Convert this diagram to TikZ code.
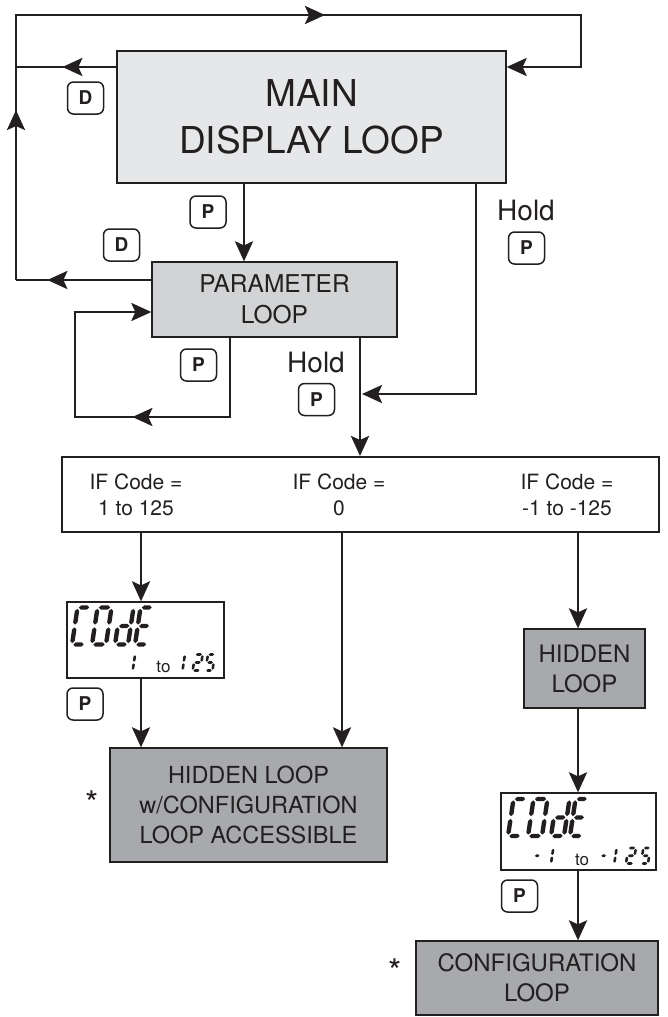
\documentclass[tikz,border=0pt]{standalone}
\usepackage{fontspec}
\setmainfont{TeX Gyre Heros}
\usetikzlibrary{arrows.meta,decorations.markings}
\definecolor{ink}{RGB}{35,31,32}
\definecolor{mainfill}{RGB}{230,231,232}
\definecolor{parfill}{RGB}{209,211,212}
\definecolor{hidfill}{RGB}{167,169,172}

\newcommand\hseg[4]{\fill[ink] ({#1},{#3}) -- ({#1+#4/2},{#3+#4/2}) -- ({#2-#4/2},{#3+#4/2}) -- ({#2},{#3}) -- ({#2-#4/2},{#3-#4/2}) -- ({#1+#4/2},{#3-#4/2}) -- cycle;}
\newcommand\vseg[4]{\fill[ink] ({#1},{#2}) -- ({#1+#4/2},{#2+#4/2}) -- ({#1+#4/2},{#3-#4/2}) -- ({#1},{#3}) -- ({#1-#4/2},{#3-#4/2}) -- ({#1-#4/2},{#2+#4/2}) -- cycle;}
\def\sgma{\hseg{\dg}{\dw-\dg}{\dh}{\dt}}
\def\sgmd{\hseg{\dg}{\dw-\dg}{0}{\dt}}
\def\sgmg{\hseg{\dg}{\dw-\dg}{\dh/2}{\dt}}
\def\sgmb{\vseg{\dw}{\dh/2+\dg}{\dh-\dg}{\dt}}
\def\sgmc{\vseg{\dw}{\dg}{\dh/2-\dg}{\dt}}
\def\sgme{\vseg{0}{\dg}{\dh/2-\dg}{\dt}}
\def\sgmf{\vseg{0}{\dh/2+\dg}{\dh-\dg}{\dt}}
\newcommand\segdigit[6]{%
  \begin{scope}[shift={(#1,#2)}, x=1pt, y=1pt, xslant=0.15]
    \def\dw{#3}\def\dh{#4}\def\dt{#5}\pgfmathsetmacro\dg{#5*0.3}
    \foreach \s in {#6}{\csname sgm\s\endcsname}
  \end{scope}}

\tikzset{
  >={Stealth[length=20pt,width=18pt,inset=4pt]},
  conn/.style={draw=ink, line width=2.8pt},
  midarrow/.style={postaction={decorate, decoration={markings, mark=at position #1 with {\arrow{>}}}}},
  box/.style={draw=ink, line width=1.3pt, text=ink, align=center, inner sep=0pt},
  keybox/.style={draw=ink, line width=1.5pt, rounded corners=6pt, minimum width=36pt, minimum height=32pt, inner sep=0pt, font=\fontsize{19}{19}\selectfont\bfseries, text=ink},
  txt/.style={text=ink, align=center, inner sep=0pt},
}

\begin{document}
\begin{tikzpicture}[x=1pt, y=-1pt]
\useasboundingbox (0,0) rectangle (668,1017);

% boxes
\node[box, fill=mainfill, minimum width=389pt, minimum height=132pt, font=\fontsize{37}{46.7}\selectfont] (main) at (311.5,117) {MAIN\\DISPLAY LOOP};
\node[box, fill=parfill, minimum width=245pt, minimum height=75pt, font=\fontsize{24.5}{31.3}\selectfont] (param) at (274.5,299.5) {PARAMETER\\LOOP};
\node[box, line width=2pt, fill=white, minimum width=597pt, minimum height=75pt] (ifbox) at (360.5,494.5) {};
\node[box, fill=white, minimum width=157pt, minimum height=76pt] (disp1) at (145.5,640) {};
\node[box, fill=hidfill, minimum width=277pt, minimum height=114pt, font=\fontsize{23.5}{30}\selectfont] (hidcfg) at (248.5,805) {HIDDEN LOOP\\w/CONFIGURATION\\LOOP ACCESSIBLE};
\node[box, fill=hidfill, minimum width=121pt, minimum height=79pt, font=\fontsize{24}{30}\selectfont] (hidden) at (584.5,668.5) {HIDDEN\\LOOP};
\node[box, fill=white, minimum width=155pt, minimum height=77pt] (disp2) at (578.5,831.5) {};
\node[box, fill=hidfill, minimum width=242pt, minimum height=74pt, font=\fontsize{24}{30}\selectfont] (conf) at (537,978) {CONFIGURATION\\LOOP};

% IF box texts
\node[txt, font=\fontsize{21}{26}\selectfont] (if1) at (136,495) {IF Code =\\1 to 125};
\node[txt, font=\fontsize{21}{26}\selectfont] (if2) at (339,495) {IF Code =\\0};
\node[txt, font=\fontsize{21}{26}\selectfont] (if3) at (567,495) {IF Code =\\-1 to -125};

% keys
\node[keybox] (kD1) at (85.5,98) {D};
\node[keybox] (kP1) at (208,212) {P};
\node[keybox] (kD2) at (121.5,245) {D};
\node[keybox] (kP2) at (526.5,248) {P};
\node[keybox] (kP3) at (198.5,365) {P};
\node[keybox] (kP4) at (316.5,399.5) {P};
\node[keybox] (kP5) at (85,704) {P};
\node[keybox] (kP6) at (519.5,896) {P};

% Hold labels and asterisks
\node[txt, anchor=base, font=\fontsize{28}{28}\selectfont] (hold1) at (526,220) {Hold};
\node[txt, anchor=base, font=\fontsize{28}{28}\selectfont] (hold2) at (316,372) {Hold};
\node[txt, anchor=base, font=\fontsize{34}{34}\selectfont] (ast1) at (92,815) {*};
\node[txt, anchor=base, font=\fontsize{34}{34}\selectfont] (ast2) at (395,983) {*};

% coordinates
\coordinate (tl) at (16,15);
\coordinate (tr) at (581,15);
\coordinate (rj) at (581,67);
\coordinate (lj) at (16,67);
\coordinate (lb) at (16,280);
\coordinate (px) at (244,0);
\coordinate (hx) at (476,0);
\coordinate (hj) at (476,394);
\coordinate (hv) at (362,394);
\coordinate (qx) at (360,0);
\coordinate (s1) at (230,417);
\coordinate (s2) at (75,417);
\coordinate (s3) at (75,312);
\coordinate (ax) at (141,0);
\coordinate (bx) at (342,0);
\coordinate (cx) at (578,0);

% connectors
\draw[conn, midarrow=54pt] (main.west |- lj) -- (lj);
\draw[conn, ->, midarrow=170pt, midarrow=574pt, line join=miter] (lb) -- (tl) -- (tr) -- (rj) -- (main.east |- rj);
\draw[conn, midarrow=104pt] (param.west |- lb) -- (lb);
\draw[conn, ->] (main.south -| px) -- (param.north -| px);
\draw[conn, ->, line join=miter] (main.south -| hx) -- (hj) -- (hv);
\draw[conn, ->] (param.south -| qx) -- (ifbox.north -| qx);
\draw[conn, ->, midarrow=177pt, line join=miter] (param.south -| s1) -- (s1) -- (s2) -- (s3) -- (param.west |- s3);
\draw[conn, ->] (ifbox.south -| ax) -- (disp1.north -| ax);
\draw[conn, ->] (disp1.south -| ax) -- (hidcfg.north -| ax);
\draw[conn, ->] (ifbox.south -| bx) -- (hidcfg.north -| bx);
\draw[conn, ->] (ifbox.south -| cx) -- (hidden.north -| cx);
\draw[conn, ->] (hidden.south -| cx) -- (disp2.north -| cx);
\draw[conn, ->] (disp2.south -| cx) -- (conf.north -| cx);

% display 1
\segdigit{72}{644.5}{13}{37}{4.4}{a,f,e,d}
\segdigit{92}{644.5}{14}{37}{4.4}{a,b,c,d,e,f}
\segdigit{115}{644.5}{13}{37}{4.4}{b,c,d,e,g}
\segdigit{135}{644.5}{12.5}{37}{4.4}{a,f,g,e,d}
\segdigit{132.7}{670.5}{7}{16}{2.6}{e,f}
\node[txt, anchor=base, font=\fontsize{17}{17}\selectfont] (to1) at (163.5,672) {to};
\segdigit{182.5}{670.5}{7}{16}{2.6}{e,f}
\segdigit{192.7}{670.5}{7.5}{16}{2.6}{a,b,g,e,d}
\segdigit{205.5}{670.5}{7}{16}{2.6}{a,f,g,c,d}

% display 2
\segdigit{508}{836}{13}{37}{4.4}{a,f,e,d}
\segdigit{528}{836}{14}{37}{4.4}{a,b,c,d,e,f}
\segdigit{551}{836}{13}{37}{4.4}{b,c,d,e,g}
\segdigit{570}{836}{12.5}{37}{4.4}{a,f,g,e,d}
\segdigit{533}{863.5}{6}{15.5}{2.6}{g}
\segdigit{551}{863.5}{7}{15.5}{2.6}{e,f}
\node[txt, anchor=base, font=\fontsize{17}{17}\selectfont] (to2) at (582,865) {to};
\segdigit{599.5}{863.5}{6}{15.5}{2.6}{g}
\segdigit{614.3}{863.5}{7}{15.5}{2.6}{e,f}
\segdigit{626}{863.5}{7.5}{15.5}{2.6}{a,b,g,e,d}
\segdigit{641}{863.5}{7}{15.5}{2.6}{a,f,g,c,d}
\end{tikzpicture}
\end{document}
